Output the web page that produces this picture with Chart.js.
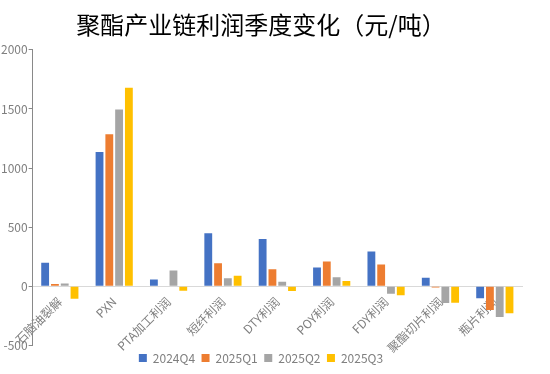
<!DOCTYPE html>
<html>
<head>
<meta charset="utf-8">
<script src="https://cdn.jsdelivr.net/npm/chart.js@4.4.1/dist/chart.umd.min.js"></script>
<style>
  html, body { margin: 0; padding: 0; background: #fff; }
  #wrap { width: 550px; height: 374px; }
</style>
</head>
<body>
<div id="wrap"><canvas id="grafico"></canvas></div>
<script>
const categorie = ['石脑油裂解', 'PXN', 'PTA加工利润', '短纤利润', 'DTY利润', 'POY利润', 'FDY利润', '聚酯切片利润', '瓶片利润']
const serie = ['2024Q4', '2025Q1', '2025Q2', '2025Q3']
const q4_2024 = [200, 1135, 58, 450, 400, 160, 295, 73, -100]
const q1_2025 = [20, 1285, 0, 195, 145, 210, 185, -10, -200]
const q2_2025 = [25, 1495, 135, 68, 40, 78, -62, -140, -258]
const q3_2025 = [-105, 1680, -38, 90, -40, 45, -76, -138, -228]
const colori = ['#4472C4', '#ED7D31', '#A5A5A5', '#FFC000']
const tickY = [-500, 0, 500, 1000, 1500, 2000]

const font = '"Noto Sans CJK SC", "Noto Sans", sans-serif'
const valori = [q4_2024, q1_2025, q2_2025, q3_2025]

new Chart(document.getElementById('grafico'), {
    type: 'bar',
    data: {
        labels: categorie,
        datasets: serie.map((nome, i) => ({
            label: nome,
            data: valori[i],
            backgroundColor: colori[i],
            borderWidth: 0,
            categoryPercentage: 0.72,
            barPercentage: 0.8
        }))
    },
    options: {
        responsive: true,
        maintainAspectRatio: false,
        animation: false,
        layout: { padding: { top: 4, right: 28, left: 0, bottom: 0 } },
        plugins: {
            title: {
                display: true,
                text: '聚酯产业链利润季度变化（元/吨）',
                color: '#000',
                font: { family: font, size: 24, weight: 'normal' },
                padding: { top: 6, bottom: 11 }
            },
            legend: {
                position: 'bottom',
                labels: {
                    boxWidth: 8,
                    boxHeight: 8,
                    color: '#7F7F7F',
                    font: { family: font, size: 12 },
                    padding: 6.5
                }
            },
            tooltip: { enabled: false }
        },
        scales: {
            x: {
                position: { y: 0 },
                grid: { display: false },
                border: { color: '#D9D9D9', width: 1 },
                ticks: {
                    color: '#7F7F7F',
                    font: { family: font, size: 12 },
                    maxRotation: 45,
                    minRotation: 45,
                    padding: 0
                }
            },
            y: {
                min: -500,
                max: 2000,
                afterBuildTicks: (asse) => { asse.ticks = tickY.map(v => ({ value: v })) },
                grid: { drawOnChartArea: false, tickLength: 4, color: '#898989' },
                border: { color: '#898989', width: 1 },
                ticks: {
                    color: '#7F7F7F',
                    font: { family: font, size: 12 },
                    padding: 1,
                    callback: (v) => String(v)
                }
            }
        }
    }
})
</script>
</body>
</html>
